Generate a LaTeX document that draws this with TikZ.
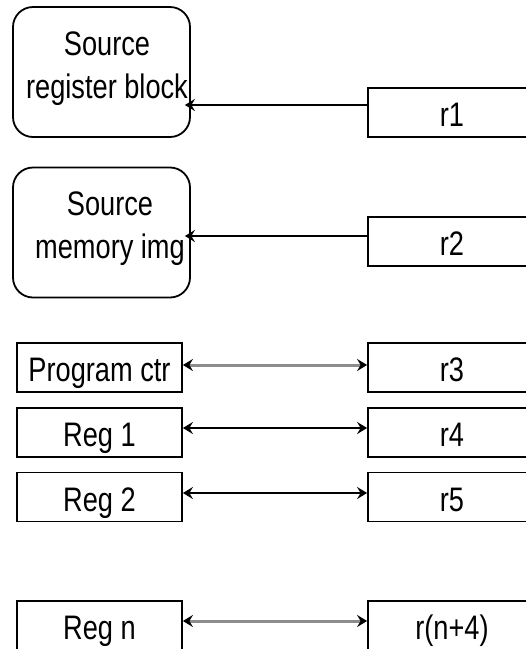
\documentclass[tikz,border=0pt]{standalone}
\usepackage{fontspec}
\setmainfont[FakeStretch=0.8]{Liberation Sans}
\usetikzlibrary{arrows.meta,calc}

\begin{document}
\begin{tikzpicture}[
  x=1pt, y=-1pt,
  >={Stealth[length=10pt,width=12pt,inset=3.5pt,black]},
  every node/.style={font=\fontsize{34}{43}\selectfont, inner sep=0pt},
  rbox/.style={draw, line width=1.8pt, rounded corners=20pt,
    minimum width=177pt, minimum height=130pt},
  lbox/.style={draw, line width=1.8pt, minimum width=165pt, minimum height=49pt,
    text height=28pt, text depth=0pt},
  rrbox/.style={draw, line width=1.8pt, minimum width=168pt, minimum height=49pt,
    text height=28pt, text depth=0pt},
  link/.style={line width=1.8pt, black},
  glink/.style={line width=3pt, black!45},
]
\useasboundingbox (0,0) rectangle (526,649);
\clip (0,0) rectangle (526,649);

% source blocks (rounded)
\node[rbox] (srb) at (101.5,72) {};
\node[align=center, anchor=base] (srbtext) at (107,98) {Source\\register block};
\node[rbox] (smi) at (101.5,232.5) {};
\node[align=center, anchor=base] (smitext) at (110,258) {Source\\memory img};

% left registers
\node[lbox] (pc)   at (99.5,367.5) {Program ctr};
\node[lbox] (reg1) at (99.5,432.5) {Reg 1};
\node[lbox] (reg2) at (99.5,497)   {Reg 2};
\node[lbox] (regn) at (99.5,625.5) {Reg n};

% right column r1 .. r(n+4)
\node[rrbox] (r1) at (452,112.5) {r1};
\node[rrbox] (r2) at (452,241.5) {r2};
\node[rrbox] (r3) at (452,367.5) {r3};
\node[rrbox] (r4) at (452,432.5) {r4};
\node[rrbox] (r5) at (452,497)   {r5};
\node[rrbox] (rn) at (452,625.5) {r(n+4)};

% one-way links into the source blocks
\draw[link, ->] ($(r1.west)+(0,-7.5)$) -- ($(srb.east |- r1.west)+(-6,-7.5)$);
\draw[link, ->] ($(r2.west)+(0,-5.5)$) -- ($(smi.east |- r2.west)+(-6,-5.5)$);

% two-way links between registers
\draw[glink, <->] ($(pc.east)+(0,-2.5)$)   -- ($(r3.west)+(0,-2.5)$);
\draw[link,  <->] ($(reg1.east)+(0,-4.5)$) -- ($(r4.west)+(0,-4.5)$);
\draw[link,  <->] ($(reg2.east)+(0,-4)$)   -- ($(r5.west)+(0,-4)$);
\draw[glink, <->] ($(regn.east)+(0,-4.5)$) -- ($(rn.west)+(0,-4.5)$);
\end{tikzpicture}
\end{document}
